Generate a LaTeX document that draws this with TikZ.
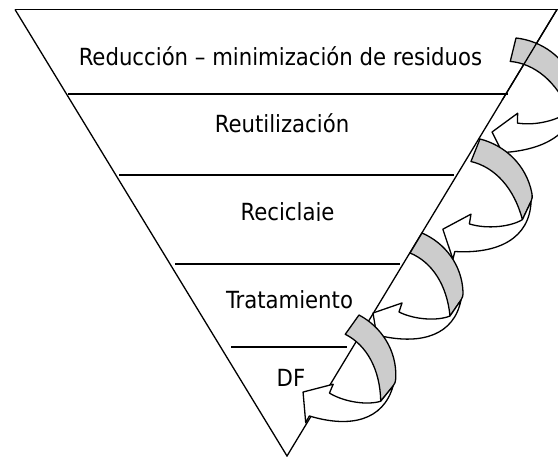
\documentclass[tikz,border=0pt]{standalone}
\usepackage{fontspec}
\setmainfont{DejaVu Sans Condensed}

\begin{document}
\begin{tikzpicture}[x=1pt, y=-1pt, line width=1.3pt,
    level/.style={font=\fontsize{23.6}{28}\selectfont, anchor=base, inner sep=0pt},
    band/.style={draw=black, line width=1.3pt, line join=round}]
    \useasboundingbox (0,0) rectangle (558,457);
    \clip (0,0) rectangle (558,457);

    % Pyramid
    \coordinate (tl) at (15,9.5);
    \coordinate (tr) at (558,9.5);
    \coordinate (tre) at (557,9.5);
    \coordinate (apex) at (287,456);
    \draw (tl) -- (tr);
    \draw (tl) -- (apex) -- (tre);
    \draw (68,94) -- (508,94);
    \draw (119,175) -- (454,175);
    \draw (175,264) -- (400,264);
    \draw (231,347) -- (347,347);

    % Levels
    \node [level] (reduccion) at (280.5,65.7) {Reducción – minimización de residuos};
    \node [level] (reutilizacion) at (282,132.3) {Reutilización};
    \begin{scope}
        \clip (200,190) rectangle (380,221);
        \node [level] (reciclaje) at (287.5,220.7) {Reciclaje};
    \end{scope}
    \node [level] (tratamiento) at (289.5,308.3) {Tratamiento};
    \node [level] (df) at (291,386.7) {DF};

    % Curved arrows
    \foreach \px/\py/\rot/\sc in {516/38/17.2/1.034, 480/139/9.1/1.04, 422/233/0/1, 359/315/-4.5/1.015}{
        \begin{scope}[shift={(\px,\py)}, rotate=\rot, scale=\sc]
            \draw [band, fill=black!20] (0,0) .. controls (23,10) and (40,32) .. (41,59)
                .. controls (41,63) and (40.5,65) .. (39,67) -- (28,83)
                .. controls (25,52) and (10,29) .. (-12,20) -- cycle;
            \draw [band, fill=white] (39,67) .. controls (32,102) and (0,112) .. (-41,103)
                -- (-44,110) -- (-49,80) -- (-20,70) -- (-23,79)
                .. controls (-7,87) and (16,88) .. (28,83) -- cycle;
        \end{scope}
    }

    % edge in front of the first arrow
    \begin{scope}
        \clip (440,0) rectangle (558,100);
        \draw (tre) -- (apex);
    \end{scope}
\end{tikzpicture}
\end{document}
